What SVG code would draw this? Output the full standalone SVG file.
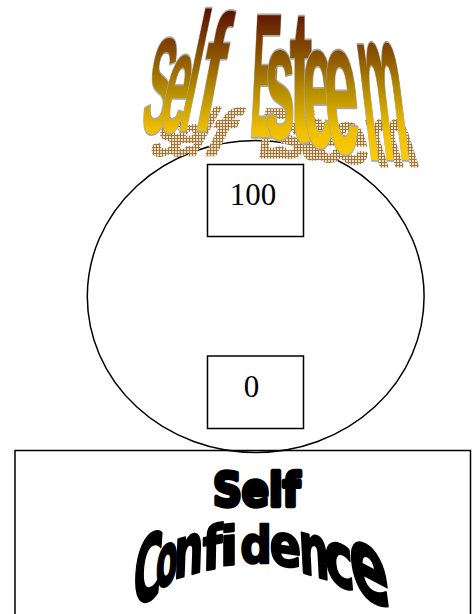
<svg xmlns="http://www.w3.org/2000/svg" xmlns:xlink="http://www.w3.org/1999/xlink" width="472" height="614" viewBox="0 0 472 614">
<style>
.shape{fill:none;stroke:#000;stroke-width:1.5}
.box{fill:#fff;stroke:#000;stroke-width:1.5}
.num{font-family:"Liberation Serif","Times New Roman",serif;font-size:31px;text-anchor:middle;fill:#000}
.wa{font-family:"Liberation Sans",Arial,sans-serif;font-weight:bold;font-size:100px;text-anchor:middle;stroke:#a8a8a8;stroke-width:2.6px;paint-order:stroke;stroke-linejoin:round;vector-effect:non-scaling-stroke}
.blk{font-family:"DejaVu Sans","Liberation Sans",sans-serif;font-weight:bold;text-anchor:middle;fill:#000;stroke:#000;stroke-linejoin:round}
.ns{vector-effect:non-scaling-stroke}
</style>
<defs>
<linearGradient id="gold" gradientUnits="userSpaceOnUse" x1="0" y1="8" x2="0" y2="162">
<stop offset="0" stop-color="#5a1000"/>
<stop offset="0.3" stop-color="#8a5200"/>
<stop offset="0.55" stop-color="#b89000"/>
<stop offset="0.8" stop-color="#f0c000"/>
<stop offset="1" stop-color="#ffcc00"/>
</linearGradient>
<linearGradient id="g1" href="#gold" xlink:href="#gold" x1="0" x2="0" y1="-91.9" y2="21.3"/>
<linearGradient id="g2" href="#gold" xlink:href="#gold" x1="0" x2="0" y1="-86.7" y2="21"/>
<linearGradient id="g3" href="#gold" xlink:href="#gold" x1="0" x2="0" y1="-72.8" y2="18.3"/>
<linearGradient id="g4" href="#gold" xlink:href="#gold" x1="0" x2="0" y1="-74.1" y2="18.7"/>
<linearGradient id="g5" href="#gold" xlink:href="#gold" x1="0" x2="0" y1="-72.9" y2="14.1"/>
<linearGradient id="g6" href="#gold" xlink:href="#gold" x1="0" x2="0" y1="-79.8" y2="14.7"/>
<linearGradient id="g7" href="#gold" xlink:href="#gold" x1="0" x2="0" y1="-69.6" y2="11"/>
<linearGradient id="g8" href="#gold" xlink:href="#gold" x1="0" x2="0" y1="-77.2" y2="8.3"/>
<linearGradient id="g9" href="#gold" xlink:href="#gold" x1="0" x2="0" y1="-75.9" y2="4.7"/>
<linearGradient id="g10" href="#gold" xlink:href="#gold" x1="0" x2="0" y1="-69.7" y2="0.92"/>
<pattern id="hatch" patternUnits="userSpaceOnUse" width="3" height="3">
<rect width="3" height="3" fill="#ece0c4"/>
<path d="M0.5 0V3M0 0.5H3" stroke="#9c6e36" stroke-width="0.9" fill="none"/>
</pattern>
<filter id="white" x="0" y="0" width="1" height="1"><feColorMatrix type="matrix" values="0 0 0 0 1 0 0 0 0 1 0 0 0 0 1 0 0 0 1 0"/></filter>
<mask id="shadowMask" maskUnits="userSpaceOnUse" x="0" y="0" width="472" height="200">
<g filter="url(#white)"><use xlink:href="#title-letters" href="#title-letters" transform="matrix(1,0,0,0.387,9,104)"/></g>
</mask>
</defs>
<rect width="472" height="614" fill="#fff"/>
<g id="connectors"></g>
<g id="circle"><ellipse class="shape" cx="255.7" cy="296.5" rx="168.4" ry="156"/></g>
<g id="title-self-esteem">
<rect x="0" y="0" width="472" height="200" fill="url(#hatch)" mask="url(#shadowMask)"/>
<g id="title-letters">
<text class="wa" fill="url(#g1)" transform="matrix(0.39,0,-0.2448,1.36,152,133)">S</text>
<text class="wa" fill="url(#g2)" transform="matrix(0.45,0,-0.3003,1.43,169,132)">e</text>
<text class="wa" fill="url(#g3)" transform="matrix(0.468,0,-0.3549,1.69,183,131)">l</text>
<text class="wa" fill="url(#g4)" transform="matrix(0.661,0,-0.3154,1.66,202,131)">f</text>
<text class="wa" fill="url(#g5)" transform="matrix(0.435,0,-0.0885,1.77,263,137)">E</text>
<text class="wa" fill="url(#g6)" transform="matrix(0.54,0,0,1.63,280,138)">s</text>
<text class="wa" fill="url(#g7)" transform="matrix(0.69,0,0,1.91,301,141)">t</text>
<text class="wa" fill="url(#g8)" transform="matrix(0.576,0,0.063,1.8,320,147)">e</text>
<text class="wa" fill="url(#g9)" transform="matrix(0.612,0,0.1337,1.91,345,153)">e</text>
<text class="wa" fill="url(#g10)" transform="matrix(0.495,0,0.268,2.18,390,160)">m</text>
</g>
</g>
<g id="box-100">
<rect class="box" x="207.5" y="164.5" width="96" height="72"/>
<text class="num" x="253" y="205">100</text>
</g>
<g id="box-0">
<rect class="box" x="207.5" y="356" width="96" height="72.5"/>
<text class="num" x="251.5" y="397">0</text>
</g>
<g id="self-confidence">
<rect class="shape" x="15" y="450.5" width="455.5" height="180"/>
<text class="blk ns" x="0" y="0" font-size="46" stroke-width="4" transform="translate(256.5,506) scale(0.87,1)">Self</text>
<g class="blk" stroke-width="2.2">
<text class="ns" transform="translate(146,601) skewY(-24) skewX(-4) scale(0.44,1)" font-size="88">C</text>
<text class="ns" transform="translate(166,585) skewY(-22) skewX(-3) scale(0.44,1)" font-size="72">o</text>
<text class="ns" transform="translate(188,575) skewY(-16) skewX(-2) scale(0.59,1)" font-size="70">n</text>
<text class="ns" transform="translate(212,569) skewY(-10) skewX(-1) scale(0.76,1)" font-size="59">f</text>
<text class="ns" transform="translate(229,565) skewY(-6) scale(1,1)" font-size="54">i</text>
<text class="ns" transform="translate(256,563) scale(0.85,1)" font-size="52">d</text>
<text class="ns" transform="translate(286,566) skewY(8) skewX(2) scale(0.8,1)" font-size="58">e</text>
<text class="ns" transform="translate(315,576) skewY(16) skewX(3) scale(0.59,1)" font-size="72">n</text>
<text class="ns" transform="translate(341,586) skewY(22) skewX(5) scale(0.67,1)" font-size="74">c</text>
<text class="ns" transform="translate(373,601) skewY(28) skewX(8) scale(0.62,1)" font-size="94">e</text>
</g>
</g>
</svg>
